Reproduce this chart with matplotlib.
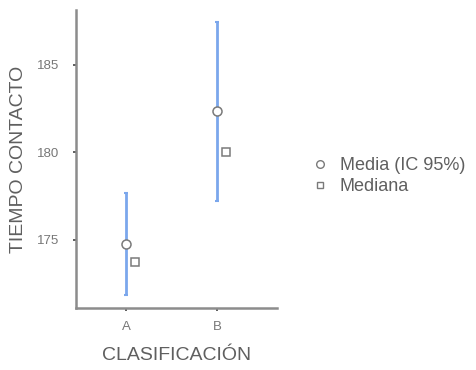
import matplotlib
matplotlib.use("Agg")
import matplotlib.pyplot as plt
from matplotlib.lines import Line2D

plt.rcParams['font.family'] = ['Liberation Sans', 'DejaVu Sans']

categories = ["A", "B"]
means = [174.77, 182.37]
ci_low = [171.86, 177.23]
ci_high = [177.69, 187.46]
medians = [173.74, 180.0]

text_col = "#5f5f5f"
tick_col = "#777777"
spine_col = "#8c8c8c"
bar_col = "#7ba7ec"
mark_col = "#7a7a7a"

fig = plt.figure(figsize=(4.77, 3.70), dpi=100)
ax_w, ax_h = 201, 298
ax = fig.add_axes([76 / 477, 62 / 370, ax_w / 477, ax_h / 370])

x = list(range(1, len(categories) + 1))
for xi, m, lo, hi, md in zip(x, means, ci_low, ci_high, medians):
    ax.errorbar([xi], [m], yerr=[[m - lo], [hi - m]], fmt="none",
                ecolor=bar_col, elinewidth=2.0, capsize=1.5, capthick=1.5, zorder=2)
    ax.plot([xi], [m], marker="o", ms=6.5, mfc="white", mec=mark_col, mew=1.1,
            ls="none", zorder=3)
    ax.plot([xi + 0.1], [md], marker="s", ms=5.5, mfc="white", mec=mark_col,
            mew=1.1, ls="none", zorder=3)

ax.set_xlim(0.45, 2.66)
ax.set_ylim(171.11, 188.14)
ax.set_xticks(x)
ax.set_xticklabels(categories)
ax.set_yticks([175, 180, 185])

for side in ("top", "right"):
    ax.spines[side].set_visible(False)
for side in ("left", "bottom"):
    ax.spines[side].set_color(spine_col)
    ax.spines[side].set_linewidth(1.8)

ax.tick_params(axis="both", labelcolor=tick_col, labelsize=9.5, length=2.5,
               width=1.2, color="#444444")
ax.tick_params(axis="y", pad=9.5)
ax.tick_params(axis="x", pad=7)

ax.set_xlabel("CLASIFICACIÓN", fontsize=14, color=text_col, va="center")
ax.xaxis.set_label_coords(0.5, -47 / ax_h)
ax.set_ylabel("TIEMPO CONTACTO", fontsize=14, color=text_col, va="center")
ax.yaxis.set_label_coords(-57 / ax_w, 0.5)

handles = [
    Line2D([], [], marker="o", ms=5.5, mfc="white", mec=mark_col, mew=1.0, ls="none"),
    Line2D([], [], marker="s", ms=5, mfc="white", mec=mark_col, mew=1.0, ls="none"),
]
leg = fig.legend(handles, ["Media (IC 95%)", "Mediana"], loc="center left",
                 bbox_to_anchor=(0.637, 0.524), frameon=False, fontsize=13,
                 handlelength=0.8, handletextpad=0.7, labelspacing=0.2,
                 labelcolor=text_col, borderpad=0)

fig.savefig("out.png", dpi=100)
